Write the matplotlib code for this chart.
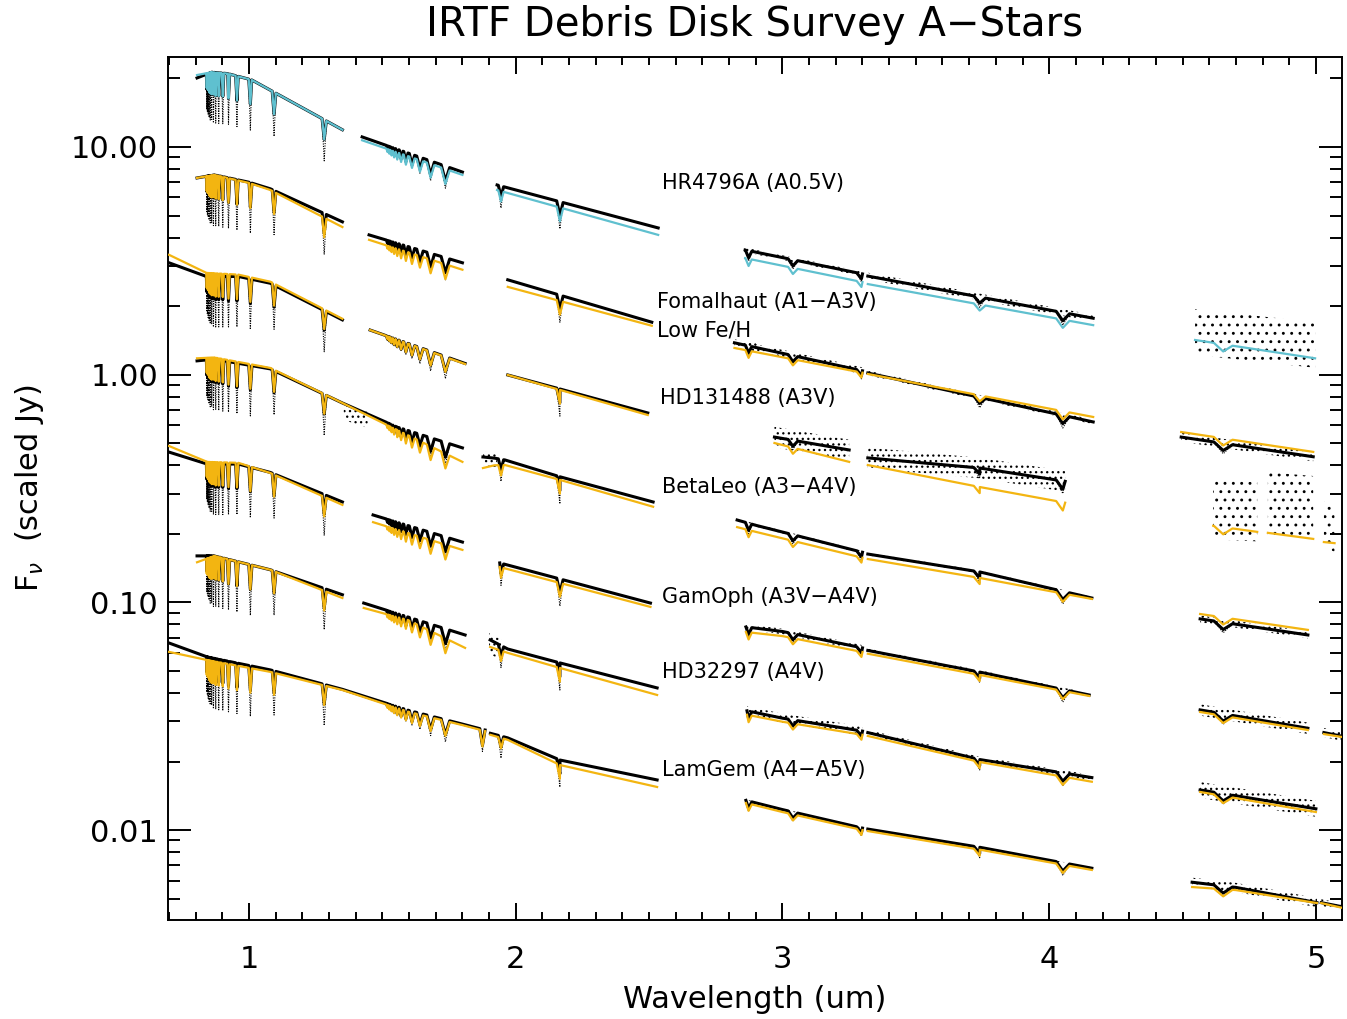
import numpy as np
import matplotlib
matplotlib.use('Agg')
import matplotlib.pyplot as plt
from matplotlib.ticker import FixedLocator, MultipleLocator, FormatStrFormatter, NullFormatter

plt.rcParams['font.family'] = 'DejaVu Sans'
plt.rcParams['hatch.linewidth'] = 0.9

# hydrogen lines (um), core depth as fraction of continuum for model / observed, half width (um)
line_wl = [0.8413, 0.8438, 0.8467, 0.8502, 0.8545, 0.8598, 0.8665, 0.8750, 0.8863, 0.9015,
           0.9229, 0.9546, 1.0049, 1.0938, 1.2818,
           1.5192, 1.5261, 1.5342, 1.5439, 1.5557, 1.5701, 1.5881, 1.6109, 1.6407, 1.6807, 1.7362,
           1.8751, 1.9446, 2.1655,
           2.8730, 3.0392, 3.2961, 3.7395, 4.0512, 4.6525]
line_model = [0.86, 0.85, 0.84, 0.82, 0.81, 0.80, 0.80, 0.79, 0.79, 0.79,
              0.78, 0.78, 0.78, 0.80, 0.82,
              0.97, 0.96, 0.95, 0.94, 0.93, 0.92, 0.91, 0.90, 0.89, 0.87, 0.86,
              0.85, 0.90, 0.87,
              0.93, 0.94, 0.95, 0.94, 0.92, 0.93]
line_obs = [0.70, 0.68, 0.66, 0.64, 0.62, 0.62, 0.60, 0.60, 0.60, 0.60,
            0.60, 0.60, 0.60, 0.64, 0.66,
            0.96, 0.95, 0.94, 0.93, 0.92, 0.91, 0.89, 0.87, 0.85, 0.82, 0.80,
            0.80, 0.80, 0.76,
            0.90, 0.91, 0.92, 0.90, 0.88, 0.90]
line_hw = [0.0012, 0.0012, 0.0014, 0.0016, 0.0018, 0.002, 0.0025, 0.003, 0.0035, 0.004,
           0.0045, 0.005, 0.006, 0.007, 0.008,
           0.004, 0.004, 0.005, 0.005, 0.006, 0.007, 0.008, 0.010, 0.012, 0.014, 0.016,
           0.010, 0.010, 0.012,
           0.012, 0.018, 0.018, 0.022, 0.025, 0.035]

# continuum knots per spectral segment: wavelength (um), model flux, observed flux (Jy), scatter (dex)
hr4796_wl = [[0.805, 0.86, 0.92, 1.01, 1.35], [1.424, 1.80], [1.93, 2.534], [2.86, 3.30], [3.32, 4.165], [4.547, 4.997]]
hr4796_mod = [[20.7, 21.3, 21.0, 19.7, 11.9], [10.7, 7.54], [6.47, 4.11], [3.25, 2.55], [2.50, 1.65], [1.42, 1.18]]
hr4796_obs = [[20.1, 21.3, 21.0, 19.7, 11.9], [11.07, 7.76], [6.81, 4.41], [3.53, 2.77], [2.71, 1.77], [1.54, 1.35]]
hr4796_scat = [0, 0, 0, 0.01, 0.015, 0.10]

fomal_wl = [[0.805, 0.87, 1.0, 1.08, 1.35], [1.45, 1.80], [1.97, 2.51], [2.82, 3.30], [3.32, 4.165], [4.495, 4.99]]
fomal_mod = [[7.31, 7.54, 6.95, 6.47, 4.45], [3.91, 2.89], [2.43, 1.64], [1.31, 1.02], [1.007, 0.652], [0.56, 0.458]]
fomal_obs = [[7.31, 7.54, 7.0, 6.55, 4.69], [4.11, 3.10], [2.61, 1.70], [1.38, 1.04], [1.017, 0.62], [0.532, 0.436]]
fomal_scat = [0, 0, 0, 0.015, 0.01, 0.02]

hd131_wl = [[0.70, 0.84, 0.96, 1.08, 1.35], [1.454, 1.81], [1.97, 2.166, 2.495], [2.97, 3.25], [3.32, 3.74, 4.06],
            [4.615, 4.78], [4.82, 4.99], [5.03, 5.07]]
hd131_mod = [[3.36, 2.80, 2.75, 2.56, 1.76], [1.57, 1.114], [0.997, 0.857, 0.665], [0.501, 0.414], [0.401, 0.321, 0.274],
             [0.217, 0.204], [0.202, 0.190], [0.184, 0.182]]
hd131_obs = [[3.10, 2.70, 2.70, 2.52, 1.74], [1.57, 1.12], [0.997, 0.865, 0.679], [0.532, 0.467], [0.431, 0.389, 0.34],
             [0.255, 0.25], [0.27, 0.26], [0.22, 0.21]]
hd131_scat = [0, 0, 0, 0.045, 0.045, 0.13, 0.14, 0.10]

betaleo_wl = [[0.805, 0.87, 1.08, 1.35, 1.555, 1.80], [1.877, 1.92, 1.96, 2.166, 2.515], [2.83, 2.90, 3.30],
              [3.32, 3.74, 4.16], [4.566, 4.97]]
betaleo_mod = [[1.18, 1.19, 1.07, 0.751, 0.572, 0.414], [0.389, 0.40, 0.401, 0.345, 0.263], [0.214, 0.204, 0.157],
               [0.155, 0.128, 0.1035], [0.0889, 0.0757]]
betaleo_obs = [[1.15, 1.17, 1.06, 0.751, 0.589, 0.477], [0.435, 0.43, 0.422, 0.356, 0.276], [0.230, 0.218, 0.166],
               [0.163, 0.136, 0.1045], [0.0846, 0.0719]]
betaleo_scat = [0, 0, 0.006, 0.006, 0.015]

gamoph_wl = [[0.70, 0.843, 0.96, 1.08, 1.35], [1.465, 1.80], [1.94, 2.505], [2.863, 3.0, 3.30], [3.32, 3.74, 4.15],
             [4.566, 4.97], [5.03, 5.10]]
gamoph_mod = [[0.486, 0.414, 0.41, 0.370, 0.268], [0.225, 0.170], [0.143, 0.0955], [0.0741, 0.0711, 0.0605],
              [0.0595, 0.0480, 0.0388], [0.0330, 0.0275], [0.0264, 0.0256]]
gamoph_obs = [[0.457, 0.405, 0.405, 0.372, 0.276], [0.242, 0.184], [0.149, 0.0993], [0.0780, 0.0745, 0.0631],
              [0.0615, 0.0494, 0.0392], [0.0337, 0.0280], [0.0268, 0.0258]]
gamoph_scat = [0, 0, 0, 0.012, 0.008, 0.025, 0.02]

hd322_wl = [[0.805, 0.87, 1.08, 1.35], [1.43, 1.595, 1.81], [1.904, 1.97, 2.166, 2.53], [2.867, 3.0, 3.30],
            [3.32, 3.74, 4.16], [4.566, 5.0]]
hd322_mod = [[0.150, 0.160, 0.139, 0.1045], [0.0945, 0.0837, 0.0631], [0.0637, 0.0600, 0.0515, 0.0392],
             [0.0321, 0.0299, 0.0262], [0.0259, 0.0199, 0.0163], [0.0147, 0.0120]]
hd322_obs = [[0.160, 0.160, 0.139, 0.108], [0.0993, 0.0863, 0.0719], [0.0684, 0.0624, 0.0542, 0.0421],
             [0.0334, 0.0310, 0.0272], [0.0268, 0.0204, 0.0170], [0.0150, 0.0124]]
hd322_scat = [0, 0, 0, 0.02, 0.012, 0.035]

lamgem_wl = [[0.70, 0.843, 1.08, 1.35, 1.60, 1.80, 1.885], [1.905, 1.97, 2.166, 2.53], [2.863, 3.0, 3.30],
             [3.32, 3.74, 4.16], [4.536, 4.70, 5.004], [5.02, 5.10]]
lamgem_mod = [[0.0606, 0.0558, 0.0495, 0.0412, 0.0330, 0.0289, 0.0272], [0.0262, 0.0249, 0.0193, 0.01546],
              [0.01315, 0.0120, 0.0100], [0.0099, 0.0082, 0.00668], [0.00562, 0.00545, 0.00478], [0.00478, 0.00455]]
lamgem_obs = [[0.0663, 0.0576, 0.0505, 0.0415, 0.0335, 0.0292, 0.0275], [0.0266, 0.0254, 0.0203, 0.0166],
              [0.0135, 0.0123, 0.0102], [0.0101, 0.0084, 0.0068], [0.0059, 0.0056, 0.0048], [0.0048, 0.0046]]
lamgem_scat = [0, 0, 0.004, 0.004, 0.02, 0.015]

# telluric noise patches (observed only)
patch_wl = [[1.355, 1.445], [1.877, 1.93], [1.90, 1.945], [2.82, 2.90]]
patch_flux = [[0.686, 0.632], [0.43, 0.42], [0.066, 0.062], [1.36, 1.33]]
patch_scat = [0.035, 0.03, 0.045, 0.02]

star_labels = ['HR4796A (A0.5V)', 'Fomalhaut (A1\u2212A3V)', 'Low Fe/H', 'HD131488 (A3V)',
               'BetaLeo (A3\u2212A4V)', 'GamOph (A3V\u2212A4V)', 'HD32297 (A4V)', 'LamGem (A4\u2212A5V)']
label_xy = [(2.549, 6.95), (2.53, 2.08), (2.53, 1.556), (2.541, 0.791),
            (2.549, 0.321), (2.549, 0.1057), (2.549, 0.0494), (2.549, 0.01836)]

cyan = '#5fc0cf'
gold = '#f3b511'
stars = [(hr4796_wl, hr4796_mod, hr4796_obs, hr4796_scat, cyan),
         (fomal_wl, fomal_mod, fomal_obs, fomal_scat, gold),
         (hd131_wl, hd131_mod, hd131_obs, hd131_scat, gold),
         (betaleo_wl, betaleo_mod, betaleo_obs, betaleo_scat, gold),
         (gamoph_wl, gamoph_mod, gamoph_obs, gamoph_scat, gold),
         (hd322_wl, hd322_mod, hd322_obs, hd322_scat, gold),
         (lamgem_wl, lamgem_mod, lamgem_obs, lamgem_scat, gold)]


def spectrum(wl, flux, depth):
    lo, hi = wl[0], wl[-1]
    x = list(wl)
    for w, h in zip(line_wl, line_hw):
        for p in (w - h, w, w + h):
            if lo <= p <= hi:
                x.append(p)
    x = np.unique(x)
    y = 10 ** np.interp(x, wl, np.log10(flux))
    for w, d in zip(line_wl, depth):
        y[np.isclose(x, w)] *= d
    return x, y


def noise(ax, wl, flux, s):
    x = np.array(wl)
    f = np.array(flux)
    pat = '..' if s > 0.08 else '...'
    ax.fill_between(x, f * 10 ** (-s), f * 10 ** s, facecolor='none', edgecolor='k',
                    hatch=pat, linewidth=0, zorder=2)


fig = plt.figure(figsize=(13.47, 10.19), dpi=100)
ax = fig.add_axes([0.1247, 0.0972, 0.8716, 0.8469])
ax.set_yscale('log')

for wls, mods, obss, scats, col in stars:
    for wl, m, o, s in zip(wls, mods, obss, scats):
        if s > 0:
            noise(ax, wl, o, s)
        if s < 0.08:
            # observed: dense band that follows the line wings, thin columns of points in the cores
            xc, yc = spectrum(wl, o, line_model)
            ax.plot(xc, yc, color='k', lw=2.2, zorder=3)
            xo, yo = spectrum(wl, o, line_obs)
            ax.plot(xo, yo, color='k', lw=0.8, ls=(0, (1, 1.2)), zorder=3)
        xm, ym = spectrum(wl, m, line_model)
        ax.plot(xm, ym, color=col, lw=1.6, zorder=4)

for wl, f, s in zip(patch_wl, patch_flux, patch_scat):
    noise(ax, wl, f, s)

for txt, (lx, ly) in zip(star_labels, label_xy):
    ax.text(lx, ly, txt, fontsize=15, va='center', ha='left', zorder=5)

ax.set_xlim(0.696, 5.098)
ax.set_ylim(0.004029, 24.85)
ax.xaxis.set_major_locator(MultipleLocator(1))
ax.xaxis.set_minor_locator(MultipleLocator(0.1))
ax.yaxis.set_major_locator(FixedLocator([0.01, 0.1, 1, 10]))
ax.yaxis.set_major_formatter(FormatStrFormatter('%.2f'))
ax.yaxis.set_minor_locator(FixedLocator([k * 10.0 ** e for e in range(-3, 2) for k in range(2, 10)]))
ax.yaxis.set_minor_formatter(NullFormatter())

ax.tick_params(axis='both', which='both', direction='in', top=True, right=True, width=1.4, labelsize=22)
ax.tick_params(axis='x', which='major', length=12, pad=18)
ax.tick_params(axis='x', which='minor', length=6)
ax.tick_params(axis='y', which='major', length=16.5, pad=7)
ax.tick_params(axis='y', which='minor', length=8.5)
for sp in ax.spines.values():
    sp.set_linewidth(1.4)

ax.set_xlabel('Wavelength (um)', fontsize=22, labelpad=8)
ax.set_ylabel(r'F$_\nu$  (scaled Jy)', fontsize=22, labelpad=18)
ax.set_title('IRTF Debris Disk Survey A\u2212Stars', fontsize=29, pad=15)

fig.savefig('out.png', dpi=100)
